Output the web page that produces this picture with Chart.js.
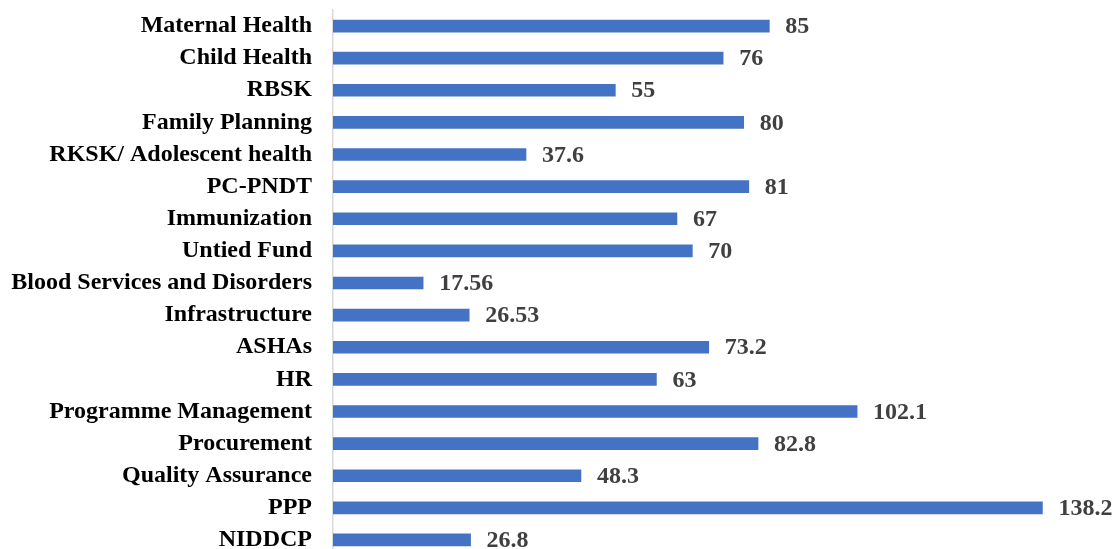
<!DOCTYPE html>
<html>
<head>
<meta charset="utf-8">
<script src="https://cdn.jsdelivr.net/npm/chart.js@4/dist/chart.umd.min.js"></script>
<style>
  html, body { margin: 0; padding: 0; background: #fff; overflow: hidden; }
  #wrap { width: 1115px; height: 556px; position: relative; }
</style>
</head>
<body>
<div id="wrap"><canvas id="grafica"></canvas></div>
<script>
const categorias = [
  "Maternal Health", "Child Health", "RBSK", "Family Planning",
  "RKSK/ Adolescent health", "PC-PNDT", "Immunization", "Untied Fund",
  "Blood Services and Disorders", "Infrastructure", "ASHAs", "HR",
  "Programme Management", "Procurement", "Quality Assurance", "PPP", "NIDDCP"
];
const valores = [85, 76, 55, 80, 37.6, 81, 67, 70, 17.56, 26.53, 73.2, 63, 102.1, 82.8, 48.3, 138.2, 26.8];

const fuente = "'Liberation Serif', 'Times New Roman', serif";

// etiquetas de valor al final de cada barra
const etiquetas = {
  id: 'etiquetas',
  afterDatasetsDraw(chart) {
    const ctx = chart.ctx;
    const meta = chart.getDatasetMeta(0);
    ctx.save();
    ctx.font = "bold 24px " + fuente;
    ctx.fillStyle = "#404040";
    ctx.textAlign = "left";
    ctx.textBaseline = "middle";
    meta.data.forEach((bar, i) => {
      ctx.fillText(String(valores[i]), bar.x + 16, bar.y + 1);
    });
    ctx.restore();
  }
};

new Chart(document.getElementById('grafica'), {
  type: 'bar',
  data: {
    labels: categorias,
    datasets: [{
      data: valores,
      backgroundColor: '#4472C4',
      barThickness: 12
    }]
  },
  options: {
    indexAxis: 'y',
    responsive: true,
    maintainAspectRatio: false,
    animation: false,
    layout: { padding: { top: 10, bottom: 0, right: 12, left: 0 } },
    plugins: { legend: { display: false }, tooltip: { enabled: false } },
    scales: {
      x: { min: 0, max: 150, display: false },
      y: {
        grid: { display: false, drawTicks: false },
        border: { display: true, color: '#d9d9d9', width: 1.5 },
        ticks: {
          color: '#000',
          padding: 21,
          font: { family: fuente, size: 24, weight: 'bold' }
        },
        afterFit(scale) {
          scale.width = 333;
          scale.paddingTop = 0;
          scale.paddingBottom = 0;
        }
      }
    }
  },
  plugins: [etiquetas]
});
</script>
</body>
</html>
